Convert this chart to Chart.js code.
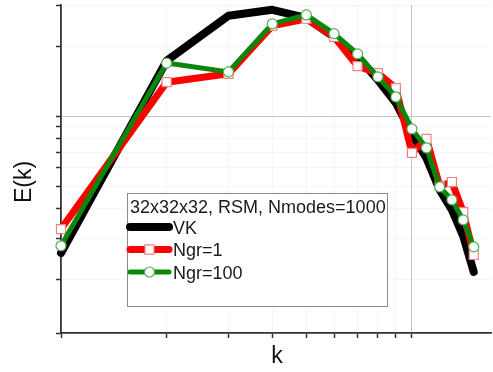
<!DOCTYPE html>
<html><head><meta charset="utf-8">
<script src="https://cdn.jsdelivr.net/npm/chart.js@4/dist/chart.umd.min.js"></script>
<style>html,body{margin:0;padding:0;background:#fff;overflow:hidden}canvas{display:block}</style>
</head><body>
<canvas id="c" width="493" height="372"></canvas>
<script>
// ---- data (arbitrary units, log-log) ----
const kValues      = [1, 2, 3, 4, 5, 6, 7, 8, 9, 10, 11, 12, 13, 14, 15];
const vkValues     = [0.259, 1.73, 2.70, 2.86, 2.64, 2.19, 1.80, 1.43, 1.14, 0.84, 0.66, 0.483, 0.396, 0.306, 0.215];
const ngr1Values   = [0.328, 1.40, 1.52, 2.44, 2.62, 2.19, 1.64, 1.53, 1.32, 0.696, 0.80, 0.502, 0.522, 0.388, 0.254];
const ngr100Values = [0.278, 1.69, 1.55, 2.49, 2.72, 2.26, 1.85, 1.475, 1.21, 0.882, 0.731, 0.497, 0.4375, 0.359, 0.275];
const seriesLabels = ['VK', 'Ngr=1', 'Ngr=100'];
const legendTitle  = '32x32x32, RSM, Nmodes=1000';
const xTitle = 'k';
const yTitle = 'E(k)';
const xTickValues = [1, 2, 3, 4, 5, 6, 7, 8, 9, 10];
const yTickValues = [0.1175, 0.2, 0.3, 0.4, 0.5, 0.6, 0.7, 0.8, 0.9, 1, 2, 3];
const xRange = [1, 16.8];
const yRange = [0.1175, 3.0];

const FONT = '"Liberation Sans", Arial, Helvetica, sans-serif';
const pts = vals => kValues.map((k, i) => ({x: k, y: vals[i]}));

const styles = [
  {borderColor: '#000000', borderWidth: 8, pointRadius: 0, pointStyle: 'circle', pointBorderColor: '#000', pointBackgroundColor: '#000', order: 3},
  {borderColor: '#ff0000', borderWidth: 7, pointRadius: 6.4, pointStyle: 'rect', pointBorderColor: '#f28080', pointBackgroundColor: '#ffffff', pointBorderWidth: 1.2, order: 2},
  {borderColor: '#0a870a', borderWidth: 5, pointRadius: 5, pointStyle: 'circle', pointBorderColor: '#52b052', pointBackgroundColor: '#ffffff', pointBorderWidth: 1.2, order: 1}
];
const seriesValues = [vkValues, ngr1Values, ngr100Values];

const datasets = seriesLabels.map((lab, i) => Object.assign({
  label: lab,
  data: pts(seriesValues[i]),
  fill: false,
  tension: 0,
  clip: false,
  borderCapStyle: 'round',
  borderJoinStyle: 'round',
  pointHoverRadius: 0
}, styles[i]));

const decorPlugin = {
  id: 'decor',
  afterDraw(chart) {
    const ctx = chart.ctx;
    ctx.save();
    // axis titles
    ctx.fillStyle = '#111';
    ctx.font = '23px ' + FONT;
    ctx.textAlign = 'center';
    ctx.textBaseline = 'middle';
    ctx.fillText(xTitle, 277, 357);
    ctx.translate(25, 182);
    ctx.rotate(-Math.PI / 2);
    ctx.fillText(yTitle, 0, 0);
    ctx.setTransform(1, 0, 0, 1, 0, 0);

    // legend box
    const bx = 127.5, by = 193.5, bw = 260, bh = 113;
    ctx.fillStyle = '#ffffff';
    ctx.fillRect(bx, by, bw, bh);
    ctx.strokeStyle = '#8c8c8c';
    ctx.lineWidth = 1;
    ctx.strokeRect(bx, by, bw, bh);
    ctx.fillStyle = '#1a1a1a';
    ctx.font = '18px ' + FONT;
    ctx.textAlign = 'left';
    ctx.textBaseline = 'alphabetic';
    ctx.fillText(legendTitle, 130, 213);
    const rowY = [227, 249.5, 272];
    chart.data.datasets.forEach((ds, i) => {
      const y = rowY[i];
      ctx.strokeStyle = ds.borderColor;
      ctx.lineWidth = ds.borderWidth;
      ctx.lineCap = 'round';
      ctx.beginPath();
      ctx.moveTo(130, y);
      ctx.lineTo(169, y);
      ctx.stroke();
      if (ds.pointRadius > 0) {
        ctx.fillStyle = ds.pointBackgroundColor;
        ctx.strokeStyle = ds.pointBorderColor;
        ctx.lineWidth = ds.pointBorderWidth;
        ctx.beginPath();
        if (ds.pointStyle === 'rect') {
          const s = ds.pointRadius * Math.SQRT1_2;
          ctx.rect(149.5 - s, y - s, 2 * s, 2 * s);
        } else {
          ctx.arc(149.5, y, ds.pointRadius, 0, Math.PI * 2);
        }
        ctx.fill();
        ctx.stroke();
      }
      ctx.fillStyle = '#1a1a1a';
      ctx.font = '18px ' + FONT;
      ctx.fillText(ds.label, 173, y + 6.5);
    });
    ctx.restore();
  }
};

const gridColor = major => (c) => (c.tick && c.tick.value === major) ? '#c4c4c4' : 'rgba(0,0,0,0.035)';

new Chart(document.getElementById('c'), {
  type: 'line',
  data: {datasets},
  plugins: [decorPlugin],
  options: {
    responsive: false,
    animation: false,
    devicePixelRatio: 1,
    events: [],
    layout: {autoPadding: false, padding: {left: 56, right: 2, top: 5, bottom: 34}},
    plugins: {legend: {display: false}, tooltip: {enabled: false}, title: {display: false}},
    scales: {
      x: {
        type: 'logarithmic', min: xRange[0], max: xRange[1],
        afterBuildTicks: s => { s.ticks = xTickValues.map(v => ({value: v, major: v === 10})); },
        ticks: {display: false},
        grid: {color: gridColor(10), lineWidth: 1, drawTicks: true, tickLength: 5, tickColor: '#333', tickWidth: 1.5},
        border: {display: true, color: '#333', width: 1.8}
      },
      y: {
        type: 'logarithmic', min: yRange[0], max: yRange[1],
        afterBuildTicks: s => { s.ticks = yTickValues.map(v => ({value: v, major: v === 1})); },
        ticks: {display: false},
        grid: {color: gridColor(1), lineWidth: 1, drawTicks: true, tickLength: 5, tickColor: '#333', tickWidth: 1.5},
        border: {display: true, color: '#333', width: 1.8}
      }
    }
  }
});
</script>
</body></html>
